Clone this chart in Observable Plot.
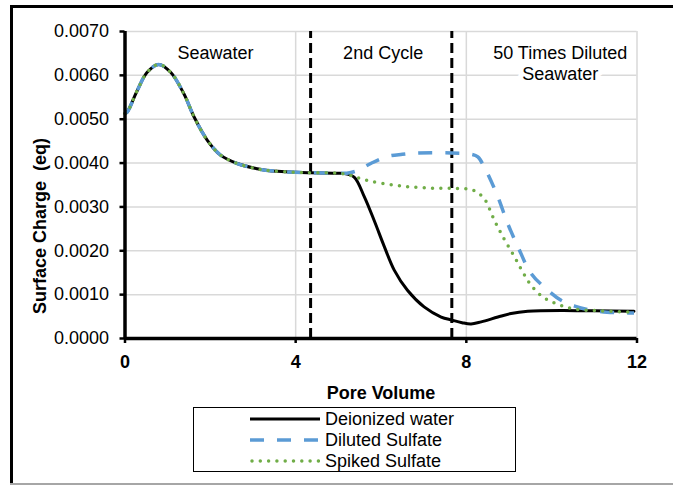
<!DOCTYPE html>
<html>
<head>
<meta charset="utf-8">
<script src="https://cdn.jsdelivr.net/npm/d3@7"></script>
<script src="https://cdn.jsdelivr.net/npm/@observablehq/plot@0.6"></script>
<style>
  html, body { margin: 0; padding: 0; background: #fff; }
  #wrap { position: relative; width: 673px; height: 485px; overflow: hidden; font-family: "Liberation Sans", Arial, sans-serif; }
  #chart { position: absolute; left: 0; top: 0; }
  .bl { position: absolute; background: #000; }
  #ylab { position: absolute; left: 40px; top: 226px; transform: translate(-50%, -50%) rotate(-90deg); font-weight: bold; font-size: 18px; white-space: pre; }
  #legend { position: absolute; left: 193px; top: 407px; width: 323px; height: 65px; box-sizing: border-box; border: 1.5px solid #000; background: #fff; }
  .row { position: absolute; left: 0; height: 20px; display: flex; align-items: center; font-size: 18px; }
  .row svg { margin-left: 56px; margin-right: 5px; }
</style>
</head>
<body>
<div id="wrap">
  <div id="chart"></div>
  <div class="bl" style="left:10px;top:5px;width:663px;height:2.5px"></div>
  <div class="bl" style="left:10px;top:5px;width:2.5px;height:480px"></div>
  <div class="bl" style="left:10px;top:483px;width:663px;height:1.5px;background:#a6a6a6"></div>
  <div id="ylab"></div>
  <div id="legend"></div>
</div>
<script>
// Shared seawater phase (all three series coincide)
const seawaterPV = [0, 0.05, 0.29, 0.52, 0.79, 1.07, 1.38, 1.62, 1.93, 2.24, 2.63, 3.1, 3.34, 4.0, 4.35, 5.0];
const seawaterQ  = [0.00513, 0.00516, 0.00566, 0.00607, 0.00625, 0.00607, 0.00558, 0.00505, 0.00452, 0.00418, 0.00399, 0.00387, 0.00383, 0.00379, 0.00378, 0.00377];

const deionizedPV = [5.14, 5.37, 5.61, 5.84, 6.08, 6.31, 6.62, 7.01, 7.41, 7.66, 7.9, 8.11, 8.35, 8.74, 9.05, 9.44, 10.22, 11.0, 11.93];
const deionizedQ  = [0.00376, 0.00368, 0.00323, 0.00269, 0.00209, 0.00156, 0.0011, 0.00072, 0.00049, 0.00042, 0.00036, 0.00033, 0.00038, 0.00049, 0.00057, 0.00062, 0.00064, 0.00063, 0.00062];

const dilutedPV = [5.2, 5.45, 5.76, 6.15, 6.5, 6.86, 7.64, 8.11, 8.27, 8.42, 8.5, 8.74, 8.97, 9.21, 9.52, 9.91, 10.22, 10.54, 10.85, 11.3, 11.93];
const dilutedQ  = [0.00377, 0.00383, 0.00399, 0.00415, 0.0042, 0.00423, 0.00423, 0.0042, 0.00414, 0.00391, 0.00376, 0.00323, 0.00262, 0.00209, 0.00148, 0.0011, 0.00087, 0.00074, 0.00066, 0.0006, 0.00058];

const spikedPV = [5.29, 5.61, 6.0, 6.54, 7.17, 7.8, 8.11, 8.25, 8.42, 8.66, 8.89, 9.13, 9.32, 9.52, 9.79, 10.14, 10.54, 11.16, 11.93];
const spikedQ  = [0.00372, 0.00362, 0.00354, 0.00347, 0.00343, 0.00342, 0.0034, 0.00333, 0.00319, 0.00269, 0.00226, 0.00186, 0.00152, 0.00121, 0.00095, 0.00078, 0.00067, 0.00063, 0.0006];

const seriesNames  = ["Deionized water", "Diluted Sulfate", "Spiked Sulfate"];
const seriesColors = ["#000000", "#5B9BD5", "#70AD47"];

const phaseBoundaries = [4.35, 7.66];
const phaseLabels   = ["Seawater", "2nd Cycle", "50 Times Diluted\nSeawater"];
const phaseLabelPV  = [2.12, 6.05, 10.2];
const phaseLabelQ   = 0.00672;

const xTicks = [0, 4, 8, 12];
const yTicks = [0, 0.001, 0.002, 0.003, 0.004, 0.005, 0.006, 0.007];
const xTitle = "Pore Volume";
const yTitle = "Surface Charge\u00a0 (eq)";

function build(pv, q) {
  const a = seawaterPV.map((x, i) => ({x, y: seawaterQ[i]}));
  return a.concat(pv.map((x, i) => ({x, y: q[i]})));
}
const dataDeion = build(deionizedPV, deionizedQ);
const dataDil = build(dilutedPV, dilutedQ);
const dataSpk = build(spikedPV, spikedQ);
const labels = phaseLabels.map((t, i) => ({t, x: phaseLabelPV[i], y: phaseLabelQ}));

const chart = Plot.plot({
  width: 673,
  height: 485,
  marginLeft: 124.5,
  marginRight: 36.5,
  marginTop: 31,
  marginBottom: 147,
  style: {fontFamily: "'Liberation Sans', Arial, sans-serif", fontSize: "18px", color: "#000", background: "transparent"},
  x: {domain: [0, 12]},
  y: {domain: [0, 0.007]},
  marks: [
    Plot.gridY(yTicks, {stroke: "#d9d9d9", strokeOpacity: 1, strokeWidth: 1.5}),
    Plot.gridX(xTicks.filter(d => d > 0), {stroke: "#d9d9d9", strokeOpacity: 1, strokeWidth: 1.5}),
    Plot.text(labels, {x: "x", y: "y", text: "t", lineAnchor: "top", lineHeight: 1.17, fontSize: 18, fill: "#000", stroke: "white", strokeWidth: 10, paintOrder: "stroke"}),
    Plot.ruleX(phaseBoundaries, {y1: 0, y2: 0.007, stroke: "#000", strokeWidth: 3, strokeDasharray: "10,5"}),
    Plot.line(dataDeion, {x: "x", y: "y", curve: "catmull-rom", stroke: seriesColors[0], strokeWidth: 3}),
    Plot.line(dataDil, {x: "x", y: "y", curve: "catmull-rom", stroke: seriesColors[1], strokeWidth: 3.5, strokeDasharray: "14,13", strokeLinecap: "butt"}),
    Plot.line(dataSpk, {x: "x", y: "y", curve: "catmull-rom", stroke: seriesColors[2], strokeWidth: 3.5, strokeDasharray: "0,8.3", strokeLinecap: "round"}),
    Plot.axisY({ticks: yTicks, tickFormat: d3.format(".4f"), tickSize: 5, tickPadding: 11, strokeWidth: 2.5, label: null, fontSize: 18}),
    Plot.axisX({ticks: xTicks, tickFormat: d => String(d), tickSize: 5, tickPadding: 12, strokeWidth: 2.5, label: xTitle, labelAnchor: "center", labelOffset: 60, labelArrow: "none", fontSize: 18, fontWeight: "bold"}),
    Plot.ruleY([0], {stroke: "#000", strokeWidth: 3.5}),
    Plot.ruleX([0], {stroke: "#000", strokeWidth: 3.5})
  ]
});
document.getElementById("chart").appendChild(chart);
document.getElementById("ylab").textContent = yTitle;

// Legend
const legend = document.getElementById("legend");
const dash = ["", "14,13", "0,8.3"];
const caps = ["butt", "butt", "round"];
seriesNames.forEach((name, i) => {
  const row = document.createElement("div");
  row.className = "row";
  row.style.top = (1 + i * 21) + "px";
  row.innerHTML = `<svg width="70" height="10"><line x1="${i === 2 ? 2 : 0}" y1="5" x2="70" y2="5" stroke="${seriesColors[i]}" stroke-width="${i === 0 ? 3 : 3.5}" stroke-dasharray="${dash[i]}" stroke-linecap="${caps[i]}"/></svg><span>${name}</span>`;
  legend.appendChild(row);
});
</script>
</body>
</html>
